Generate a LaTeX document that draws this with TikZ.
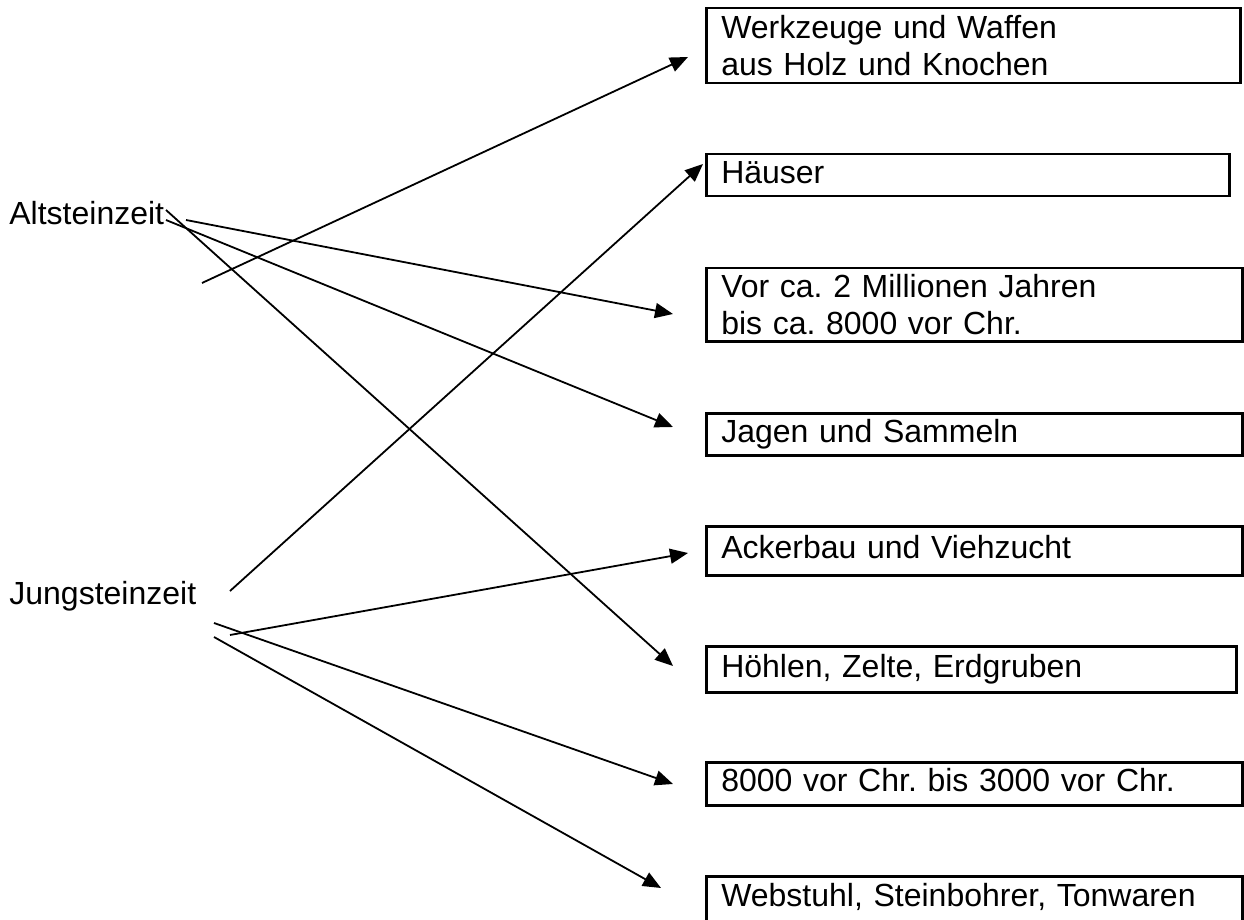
\documentclass[tikz,border=0pt]{standalone}
\usepackage{fontspec}
\setmainfont{Liberation Sans}
\usetikzlibrary{arrows.meta}
\frenchspacing

\begin{document}
\begin{tikzpicture}[x=0.5pt,y=-0.5pt,>={Triangle[length=9pt,width=7.5pt]},
  pfeil/.style={->,line width=0.9pt},
  feld/.style={draw,line width=1.25pt,anchor=north west,inner xsep=7.5pt,inner ysep=0pt,
    align=left,text width=253pt,font=\fontsize{16}{18.3}\selectfont},
  zeile/.style={feld,text height=8pt,text depth=0pt},
  epoche/.style={anchor=base west,inner sep=0pt,font=\fontsize{16}{18.3}\selectfont}]
\useasboundingbox (0,0) rectangle (1244,920);
\clip (0,0) rectangle (1244,920);

% Kaesten rechts
\node[feld,minimum height=37.5pt,text width=252pt] (werkzeuge) at (705,7) {Werkzeuge und Waffen\\aus Holz und Knochen};
\node[zeile,minimum height=21pt,text width=246.5pt] (haeuser) at (705,153) {Häuser};
\node[feld,minimum height=36.5pt] (vorca) at (705,267) {Vor ca. 2 Millionen Jahren\\bis ca. 8000 vor Chr.};
\node[zeile,minimum height=21pt] (jagen) at (705,412) {Jagen und Sammeln};
\node[zeile,minimum height=24.5pt] (acker) at (705,525) {Ackerbau und Viehzucht};
\node[zeile,minimum height=23pt,text width=250pt] (hoehlen) at (705,645) {Höhlen, Zelte, Erdgruben};
\node[zeile,minimum height=21.5pt] (zeitraum) at (705,761) {8000 vor Chr. bis 3000 vor Chr.};
\node[feld,text height=15pt,text depth=20pt] (webstuhl) at (705,875) {Webstuhl, Steinbohrer, Tonwaren};

% Epochen links
\node[epoche] (alt) at (9,225) {Altsteinzeit};
\node[epoche] (jung) at (9,604) {Jungsteinzeit};

% Anfangs- und Endpunkte der Pfeile
\coordinate (altA) at (166,210);
\coordinate (altB) at (166,220);
\coordinate (altC) at (186,220);
\coordinate (altD) at (202,283);
\coordinate (jungA) at (230,591);
\coordinate (jungB) at (230,635);
\coordinate (jungC) at (214,623);
\coordinate (jungD) at (214,637);
\coordinate (zWerkzeuge) at (688,57);
\coordinate (zHaeuser) at (703,164);
\coordinate (zVorca) at (673,314);
\coordinate (zJagen) at (673,427);
\coordinate (zAcker) at (688,553);
\coordinate (zHoehlen) at (673,666);
\coordinate (zZeitraum) at (673,784);
\coordinate (zWebstuhl) at (661,888);

\path[pfeil] (altA) edge (zHoehlen)
(altB) edge (zJagen)
(altC) edge (zVorca)
(altD) edge (zWerkzeuge)
(jungA) edge (zHaeuser)
(jungB) edge (zAcker)
(jungC) edge (zZeitraum)
(jungD) edge (zWebstuhl);
\end{tikzpicture}
\end{document}
